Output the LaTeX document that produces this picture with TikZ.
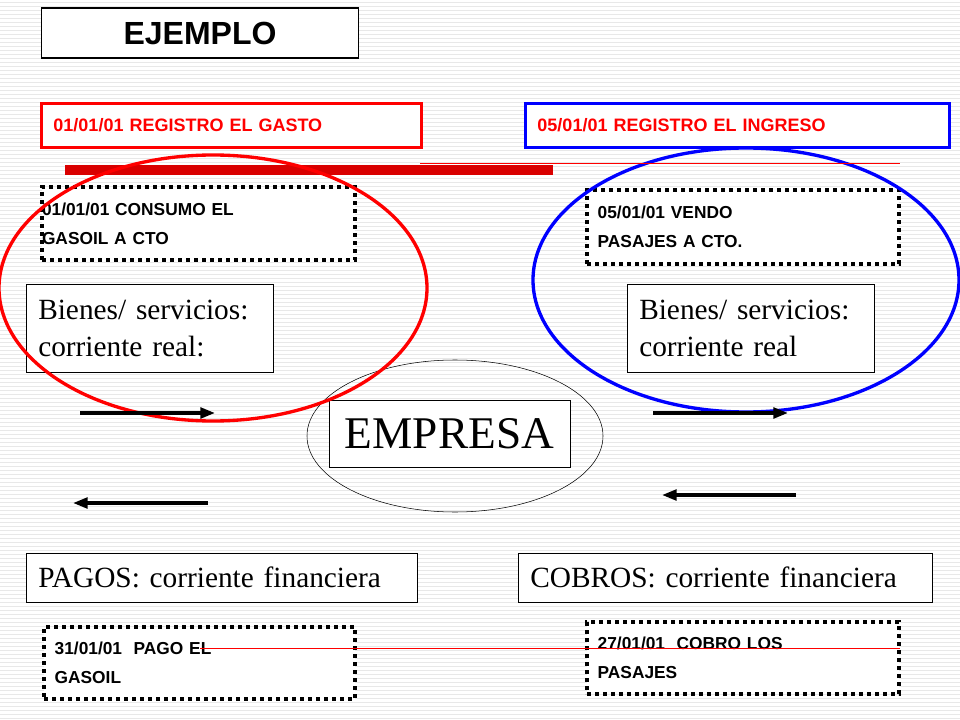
\documentclass[tikz,border=0pt]{standalone}
\usepackage{fontspec}
\setmainfont{Liberation Serif}
\setsansfont{Liberation Sans}
\usetikzlibrary{arrows.meta,shapes.geometric}
\begin{document}
\begin{tikzpicture}[x=0.75pt,y=-0.75pt,
  hd/.style={draw,thick,fill=white,inner sep=0,font=\sffamily\bfseries\fontsize{24}{28}\selectfont},
  reg/.style={draw=red,line width=2.2pt,fill=white,text=red,anchor=north west,inner sep=0,align=left,font=\sffamily\bfseries\fontsize{13.5}{16}\selectfont},
  dot/.style={draw,line width=3pt,dash pattern=on 3pt off 3pt,fill=white,anchor=north west,inner sep=0,font=\sffamily\bfseries\fontsize{13}{21.5}\selectfont,align=left},
  sbox/.style={draw,fill=white,anchor=north west,inner sep=0,font=\fontsize{22}{28}\selectfont,align=left},
  arr/.style={line width=2.5pt,-{Triangle[length=11pt,width=8pt]}}]
\useasboundingbox (0,0) rectangle (960,720);
\fill[white] (0,0) rectangle (960,720);
\foreach \y in {2,6,...,718} \draw[gray!18,line width=0.6pt] (0,\y) -- (960,\y);
\draw[red!85!black,line width=7.5pt] (65,170) -- (553,170);
\node[draw,ellipse,minimum width=296pt*0.75,minimum height=152pt*0.75] (eo) at (455,436) {};
\node[hd,minimum width=317pt*0.75,minimum height=50pt*0.75] (ej) at (200,33) {EJEMPLO};
\node[reg,minimum width=380pt*0.75,minimum height=44pt*0.75,text width=380pt*0.75] (r1) at (40,102) {\hspace*{9pt}01/01/01 REGISTRO EL GASTO};
\node[reg,draw=blue,minimum width=424pt*0.75,minimum height=44pt*0.75,text width=424pt*0.75] (r2) at (524,102) {\hspace*{9pt}05/01/01 REGISTRO EL INGRESO};
\node[dot,minimum width=313pt*0.75,minimum height=73pt*0.75,text width=313pt*0.75] (d1) at (40,185) {\hspace*{0pt}01/01/01 CONSUMO EL\\GASOIL A CTO};
\node[dot,minimum width=312pt*0.75,minimum height=74pt*0.75,text width=312pt*0.75] (d2) at (585,188) {\hspace*{8pt}05/01/01 VENDO\\\hspace*{8pt}PASAJES A CTO.};
\node[dot,minimum width=311pt*0.75,minimum height=72pt*0.75,text width=311pt*0.75] (d3) at (42,625) {\hspace*{8pt}31/01/01\ \ PAGO EL\\\hspace*{8pt}GASOIL};
\node[dot,minimum width=312pt*0.75,minimum height=72pt*0.75,text width=312pt*0.75] (d4) at (585,620) {\hspace*{8pt}27/01/01\ \ COBRO LOS\\\hspace*{8pt}PASAJES};
\node[sbox,minimum width=247pt*0.75,minimum height=88pt*0.75,text width=247pt*0.75] (b1) at (26,284) {\hspace*{9pt}Bienes/ servicios:\\\hspace*{9pt}corriente real:};
\node[sbox,minimum width=247pt*0.75,minimum height=88pt*0.75,text width=247pt*0.75] (b2) at (627,284) {\hspace*{9pt}Bienes/ servicios:\\\hspace*{9pt}corriente real};
\node[sbox,minimum width=391pt*0.75,minimum height=49pt*0.75,text width=391pt*0.75] (p) at (26,553) {\hspace*{9pt}PAGOS: corriente financiera};
\node[sbox,minimum width=414pt*0.75,minimum height=49pt*0.75,text width=414pt*0.75] (c) at (518,553) {\hspace*{9pt}COBROS: corriente financiera};
\node[draw,fill=white,inner sep=0,minimum width=241pt*0.75,minimum height=67pt*0.75,font=\fontsize{34}{36}\selectfont] (em) at (449.5,433.5) {EMPRESA};
\draw[red,line width=2.5pt] (213,288) ellipse [x radius=214, y radius=133];
\draw[blue,line width=2.5pt] (746,280) ellipse [x radius=213, y radius=132];
\draw[red,line width=0.6pt] (420,163) -- (900,163);
\draw[red,line width=0.6pt] (200,648) -- (900,648);
\coordinate (a1s) at (80,413); \coordinate (a1e) at (215,413);
\coordinate (a2s) at (208,503); \coordinate (a2e) at (73,503);
\coordinate (a3s) at (653,413); \coordinate (a3e) at (788,413);
\coordinate (a4s) at (796,495); \coordinate (a4e) at (662,495);
\draw[arr] (a1s) -- (a1e);
\draw[arr] (a2s) -- (a2e);
\draw[arr] (a3s) -- (a3e);
\draw[arr] (a4s) -- (a4e);
\end{tikzpicture}
\end{document}
